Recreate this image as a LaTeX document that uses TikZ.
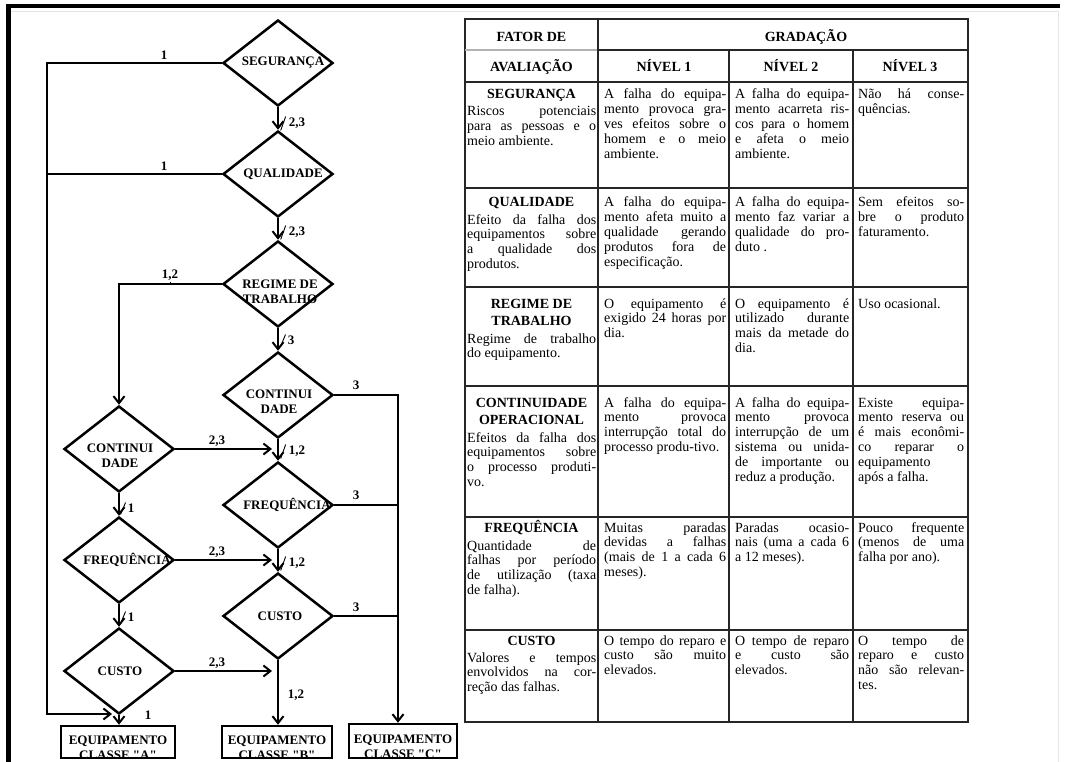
\documentclass[tikz,border=0pt]{standalone}
\usepackage{fontspec}
\setmainfont{Liberation Serif}
\newfontfamily\tabfont{Liberation Serif}
\newfontfamily\flowfont{Liberation Serif}[Ligatures=TeXOff]
\usetikzlibrary{shapes.geometric,arrows.meta,calc}
\setlength{\parindent}{0pt}
\setlength{\parskip}{0pt}
\tolerance=10000
\hbadness=10000
\hfuzz=20pt
\hyphenpenalty=10000
\exhyphenpenalty=10000

\begin{document}
\begin{tikzpicture}[x=1pt,y=-1pt,
  flow/.style={line width=2.4pt, black},
  arr/.style={flow, -{Straight Barb[length=7pt,width=11pt,line width=2pt]}},
  dia/.style={diamond, draw, line width=2.5pt, minimum width=110pt, minimum height=86pt, inner sep=0pt},
  ftxt/.style={font=\flowfont\fontsize{13}{15}\selectfont\bfseries, align=center, inner sep=0pt},
  lbl/.style={font=\flowfont\fontsize{13}{15}\selectfont\bfseries, inner sep=1pt},
  tick/.style={line width=0.9pt},
  eqbox/.style={draw, line width=2.5pt, rectangle, inner sep=0pt},
  grid/.style={line width=1.6pt, black!85},
  gridlight/.style={line width=1.2pt, black!30},
  hdr/.style={anchor=base, inner sep=0pt, font=\tabfont\fontsize{14}{16}\selectfont\bfseries},
  cell/.style={anchor=base west, inner sep=0pt, align=justify,
    font=\tabfont\fontsize{14}{14.8}\selectfont},
]
\useasboundingbox (0,0) rectangle (1065,762);

% page frame
\draw[black!10, line width=0.8pt] (11,11) -- (1058,11) -- (1058,762);
\draw[line width=4.5pt] (8.5,762) -- (8.5,6) -- (1060,6);

% ---------------- decision flow ----------------
\node[dia] (seg)    at (278,63)  {};
\node[dia] (qual)   at (278,174) {};
\node[dia] (reg)    at (278,284) {};
\node[dia] (rcont)  at (278,395) {};
\node[dia] (rfreq)  at (278,505) {};
\node[dia] (rcusto) at (278,616) {};
\node[dia] (lcont)  at (119,449) {};
\node[dia] (lfreq)  at (119,560) {};
\node[dia] (lcusto) at (119,671) {};

\node[ftxt] at ([xshift=5pt]seg.center)  {SEGURANÇA};
\node[ftxt] at ([xshift=5pt]qual.center) {QUALIDADE};
\node[ftxt] at ([xshift=2pt,yshift=-8pt]reg.center) {REGIME DE\\TRABALHO};
\node[ftxt] at ([xshift=1pt,yshift=-7pt]rcont.center) {CONTINUI\\DADE};
\node[ftxt] at ([xshift=9pt]rfreq.center) {FREQUÊNCIA};
\node[ftxt] at ([xshift=2pt]rcusto.center) {CUSTO};
\node[ftxt] at ([xshift=1pt,yshift=-7pt]lcont.center) {CONTINUI\\DADE};
\node[ftxt] at ([xshift=8pt]lfreq.center) {FREQUÊNCIA};
\node[ftxt] at ([xshift=1pt]lcusto.center) {CUSTO};

\node[eqbox, minimum width=114pt, minimum height=32pt,
  path picture={\node[ftxt, anchor=north] at ([yshift=-5pt]path picture bounding box.north) {EQUIPAMENTO\\CLASSE "A"};}]
  (boxA) at (118,742) {};
\node[eqbox, minimum width=110pt, minimum height=32pt,
  path picture={\node[ftxt, anchor=north] at ([yshift=-5pt]path picture bounding box.north) {EQUIPAMENTO\\CLASSE "B"};}]
  (boxB) at (277,742) {};
\node[eqbox, minimum width=108pt, minimum height=34pt,
  path picture={\node[ftxt, anchor=north] at ([yshift=-5pt]path picture bounding box.north) {EQUIPAMENTO\\CLASSE "C"};}]
  (boxC) at (403,741) {};

\coordinate (oB)  at (47,714);
\coordinate (ain) at (112,714);
\coordinate (rc)  at (398,395);

% level 1 of the first two factors goes straight to class A
\draw[arr] (seg.west) -| (oB) -- (ain);
\draw[flow] (qual.west) -- (qual.west -| oB);
\node[lbl] at (164,55)  {1};
\node[lbl] at (164,166) {1};

% main column
\draw[arr] (seg.south) -- (qual.north);
\node[lbl] (v1) at (297,123) {2,3};
\draw[tick] ([xshift=-7pt,yshift=-1pt]v1.south west) -- ([xshift=-2pt]v1.north west);

\draw[arr] (qual.south) -- (reg.north);
\node[lbl] (v2) at (297,232) {2,3};
\draw[tick] ([xshift=-7pt,yshift=-1pt]v2.south west) -- ([xshift=-2pt]v2.north west);

\draw[arr] (reg.south) -- (rcont.north);
\node[lbl] (v3) at (291,340) {3};
\draw[tick] ([xshift=-6pt,yshift=-1pt]v3.south west) -- ([xshift=-1pt]v3.north west);

\draw[arr] (rcont.south) -- (rfreq.north);
\node[lbl] (v4) at (297,451) {1,2};
\draw[tick] ([xshift=-7pt,yshift=-1pt]v4.south west) -- ([xshift=-2pt]v4.north west);

\draw[arr] (rfreq.south) -- (rcusto.north);
\node[lbl] (v5) at (297,563) {1,2};
\draw[tick] ([xshift=-7pt,yshift=-1pt]v5.south west) -- ([xshift=-2pt]v5.north west);

\draw[arr] (rcusto.south) -- (rcusto.south |- boxB.north);
\node[lbl] at (296,695) {1,2};

% side column
\draw[arr] (reg.west) -| (lcont.north);
\node[lbl] (h0) at (170,275) {1,2};
\draw[tick] (h0.south) -- (h0.south |- reg.west);

\draw[arr] (lcont.south) -- (lfreq.north);
\node[lbl] (v6) at (131,508) {1};
\draw[tick] ([xshift=-6pt,yshift=-1pt]v6.south west) -- ([xshift=-1pt]v6.north west);

\draw[arr] (lfreq.south) -- (lcusto.north);
\node[lbl] (v7) at (131,617) {1};
\draw[tick] ([xshift=-6pt,yshift=-1pt]v7.south west) -- ([xshift=-1pt]v7.north west);

\draw[arr] (lcusto.south) -- (lcusto.south |- boxA.north);
\node[lbl] at (148,715) {1};

% cross links back to the main column
\draw[arr, shorten >=6pt] (lcont.east) -- (lcont.east -| rcont.south);
\node[lbl] (h1) at (217,441) {2,3};
\draw[tick] (h1.south) -- (h1.south |- lcont.east);

\draw[arr, shorten >=6pt] (lfreq.east) -- (lfreq.east -| rcont.south);
\node[lbl] (h2) at (217,552) {2,3};
\draw[tick] (h2.south) -- (h2.south |- lfreq.east);

\draw[arr, shorten >=6pt] (lcusto.east) -- (lcusto.east -| rcont.south);
\node[lbl] (h3) at (217,663) {2,3};
\draw[tick] (h3.south) -- (h3.south |- lcusto.east);

% level 3 goes to class C
\draw[arr] (rcont.east) -- (rc) -- (rc |- boxC.north);
\draw[flow] (rfreq.east) -- (rfreq.east -| rc);
\draw[flow] (rcusto.east) -- (rcusto.east -| rc);
\node[lbl] at (356,385) {3};
\node[lbl] at (356,495) {3};
\node[lbl] at (356,607) {3};

% ---------------- grading table ----------------
\draw[grid] (465,19) rectangle (968,722);
\draw[gridlight] (465,50) -- (598,50);
\draw[grid] (598,50) -- (968,50);
\foreach \y in {82,188,287,386,517,630}
  \draw[grid] (465,\y) -- (968,\y);
\draw[grid] (598,19) -- (598,722);
\draw[grid] (729,50) -- (729,722);
\draw[grid] (853,50) -- (853,722);

\node[hdr] (tf)  at (531.5,42) {FATOR DE};
\node[hdr] (tg)  at (806,42)   {GRADAÇÃO};
\node[hdr] (ta)  at (531.5,72) {AVALIAÇÃO};
\node[hdr] (tn1) at (664,72)   {NÍVEL 1};
\node[hdr] (tn2) at (791,72)   {NÍVEL 2};
\node[hdr] (tn3) at (910,72)   {NÍVEL 3};

% row: safety
\node[hdr] (f1) at (531.5,99) {SEGURANÇA};
\node[cell, text width=129pt] at ([yshift=-17pt]f1.base -| 467,0)
  {Riscos potenciais\linebreak para as pessoas e o\linebreak meio ambiente.};
\node[cell, text width=122pt] at (604,99)
  {A falha do equipa-\linebreak mento provoca gra-\linebreak ves efeitos sobre o\linebreak homem e o meio\linebreak ambiente.};
\node[cell, text width=114pt] at (735,99)
  {A falha do equipa-\linebreak mento acarreta ris-\linebreak cos para o homem\linebreak e afeta o meio\linebreak ambiente.};
\node[cell, text width=106pt] at (858,99)
  {Não há conse-\linebreak quências.};

% row: quality
\node[hdr] (f2) at (531.5,207) {QUALIDADE};
\node[cell, text width=129pt] at ([yshift=-17pt]f2.base -| 467,0)
  {Efeito da falha dos\linebreak equipamentos sobre\linebreak a qualidade dos\linebreak produtos.};
\node[cell, text width=122pt] at (604,207)
  {A falha do equipa-\linebreak mento afeta muito a\linebreak qualidade gerando\linebreak produtos fora de\linebreak especificação.};
\node[cell, text width=114pt] at (735,207)
  {A falha do equipa-\linebreak mento faz variar a\linebreak qualidade do pro-\linebreak duto .};
\node[cell, text width=106pt] at (858,207)
  {Sem efeitos so-\linebreak bre o produto\linebreak faturamento.};

% row: operating regime
\node[hdr] (f3) at (531.5,308) {REGIME DE};
\node[hdr] (f3b) at (531.5,325) {TRABALHO};
\node[cell, text width=129pt] at ([yshift=-18pt]f3b.base -| 467,0)
  {Regime de trabalho\linebreak do equipamento.};
\node[cell, text width=122pt] at (604,308)
  {O equipamento é\linebreak exigido 24 horas por\linebreak dia.};
\node[cell, text width=114pt] at (735,308)
  {O equipamento é\linebreak utilizado durante\linebreak mais da metade do\linebreak dia.};
\node[cell, text width=106pt] at (858,308)
  {Uso ocasional.};

% row: operational continuity
\node[hdr] (f4) at (531.5,407) {CONTINUIDADE};
\node[hdr] (f4b) at (531.5,424) {OPERACIONAL};
\node[cell, text width=129pt] at ([yshift=-18pt]f4b.base -| 467,0)
  {Efeitos da falha dos\linebreak equipamentos sobre\linebreak o processo produti-\linebreak vo.};
\node[cell, text width=122pt] at (604,407)
  {A falha do equipa-\linebreak mento provoca\linebreak interrupção total do\linebreak processo produ-tivo.};
\node[cell, text width=114pt] at (735,407)
  {A falha do equipa-\linebreak mento provoca\linebreak interrupção de um\linebreak sistema ou unida-\linebreak de importante ou\linebreak reduz a produção.};
\node[cell, text width=106pt] at (858,407)
  {Existe equipa-\linebreak mento reserva ou\linebreak é mais econômi-\linebreak co reparar o\linebreak equipamento\linebreak após a falha.};

% row: frequency
\node[hdr] (f5) at (531.5,532) {FREQUÊNCIA};
\node[cell, text width=129pt] at ([yshift=-18pt]f5.base -| 467,0)
  {Quantidade de\linebreak falhas por período\linebreak de utilização (taxa\linebreak de falha).};
\node[cell, text width=122pt] at (604,532)
  {Muitas paradas\linebreak devidas a falhas\linebreak (mais de 1 a cada 6\linebreak meses).};
\node[cell, text width=114pt] at (735,532)
  {Paradas ocasio-\linebreak nais (uma a cada 6\linebreak a 12 meses).};
\node[cell, text width=106pt] at (858,532)
  {Pouco frequente\linebreak (menos de uma\linebreak falha por ano).};

% row: cost
\node[hdr] (f6) at (531.5,645) {CUSTO};
\node[cell, text width=129pt] at ([yshift=-17pt]f6.base -| 467,0)
  {Valores e tempos\linebreak envolvidos na cor-\linebreak reção das falhas.};
\node[cell, text width=122pt] at (604,645)
  {O tempo do reparo e\linebreak custo são muito\linebreak elevados.};
\node[cell, text width=114pt] at (735,645)
  {O tempo de reparo\linebreak e custo são\linebreak elevados.};
\node[cell, text width=106pt] at (858,645)
  {O tempo de\linebreak reparo e custo\linebreak não são relevan-\linebreak tes.};
\end{tikzpicture}
\end{document}
